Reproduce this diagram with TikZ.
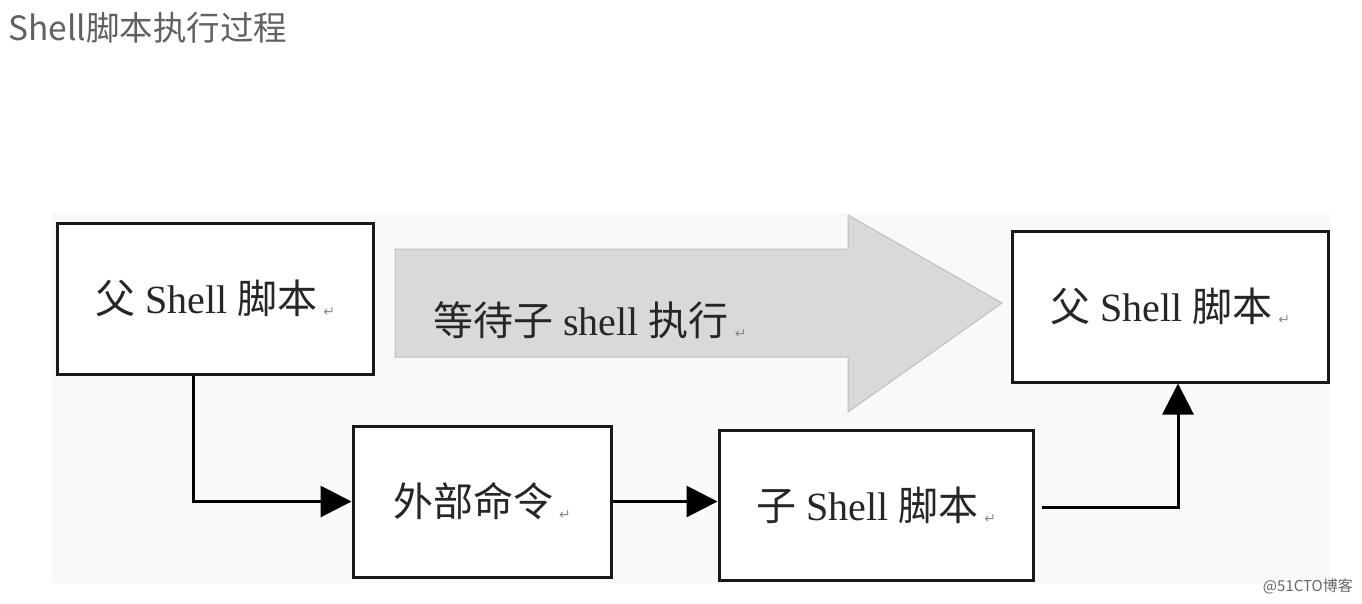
\documentclass[tikz,border=0pt]{standalone}
\usepackage{fontspec}
\setmainfont{Liberation Serif}
\newfontfamily\cjk{Noto Sans CJK SC}
\newfontfamily\dvsans{DejaVu Sans}
\usetikzlibrary{arrows.meta}
\newcommand{\zh}[1]{{\cjk #1}}
\newcommand{\pmark}{\hspace{6pt}{\dvsans\fontsize{14}{14}\selectfont\color{black!45}\raisebox{-3pt}{↵}}}
\begin{document}
\begin{tikzpicture}[x=1pt,y=-1pt,
  box/.style={draw=black!90,line width=3pt,fill=white,inner sep=0pt,
     font=\fontsize{40}{46}\selectfont,text=black!85},
  conn/.style={line width=3pt,draw=black,-{Triangle[length=31pt,width=31pt]}}]
\useasboundingbox (0,0) rectangle (1362,603);
\fill[white] (0,0) rectangle (1362,603);
\fill[black!2.5] (52,213) rectangle (1330,583);
% title
\node[anchor=west,inner sep=0pt,text=black!62,font=\cjk\fontsize{33.5}{36}\selectfont] (title) at (8,28) {Shell脚本执行过程};
% big arrow
\draw[fill=black!15,draw=black!25,line width=1pt] (395,249) -- (848,249) -- (848,215) -- (1002,303) -- (848,412) -- (848,357) -- (395,357) -- cycle;
\node[inner sep=0pt,font=\fontsize{40}{46}\selectfont,text=black!85] (wait) at (590,320) {\zh{等待子} shell \zh{执行}\pmark};
% boxes
\node[box,minimum width=316pt,minimum height=151pt] (b1) at (215,298.5) {\zh{父} Shell \zh{脚本}\pmark};
\node[box,minimum width=316pt,minimum height=151pt] (b3) at (1170,306.5) {\zh{父} Shell \zh{脚本}\pmark};
\node[box,minimum width=258pt,minimum height=151pt] (b2) at (482,501.5) {\zh{外部命令}\pmark};
\node[box,minimum width=314pt,minimum height=150pt] (b4) at (876,505) {\zh{子} Shell \zh{脚本}\pmark};
% connectors
\draw[conn] ([xshift=-22pt]b1.south) |- (b2.west);
\draw[conn] (b2.east) -- (b2.east -| b4.west);
\coordinate (s4) at ([xshift=7pt,yshift=-2pt]b4.east);
\draw[conn] (s4) -| ([xshift=8pt]b3.south);
% watermark
\node[anchor=east,inner sep=0pt,text=black!60,font=\cjk\fontsize{15}{16}\selectfont] (wm) at (1353,586) {@51CTO博客};
\end{tikzpicture}
\end{document}
